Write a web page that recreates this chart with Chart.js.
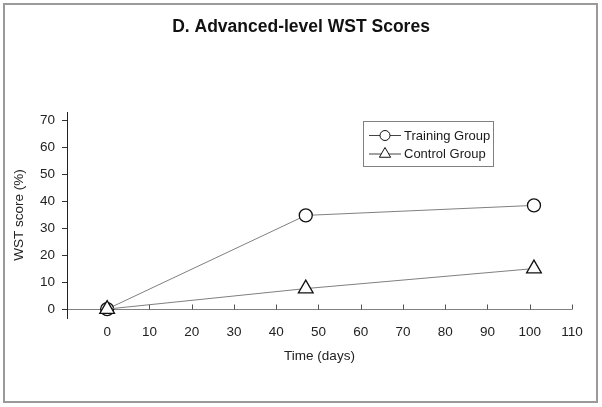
<!DOCTYPE html>
<html>
<head>
<meta charset="utf-8">
<script src="https://cdn.jsdelivr.net/npm/chart.js@4.4.0/dist/chart.umd.min.js"></script>
<style>
  html, body { margin: 0; padding: 0; background: #fff; }
  #wrap { width: 602px; height: 407px; position: relative; }
</style>
</head>
<body>
<div id="wrap"><canvas id="wstChart"></canvas></div>
<script>
// ── DATA ──
const days = [0, 47, 101];
const trainingScores = [0, 34.7, 38.4];
const controlScores = [0, 7.6, 15.0];
const xTicks = [0, 10, 20, 30, 40, 50, 60, 70, 80, 90, 100, 110];
const yTicks = [0, 10, 20, 30, 40, 50, 60, 70];

const toPoints = vals => days.map((d, i) => ({ x: d, y: vals[i] }));

Chart.defaults.font.family = "'Liberation Sans', Arial, sans-serif";
Chart.defaults.color = '#222';

// white page + thin grey frame round the picture
const frame = {
    id: 'frame',
    beforeDraw(chart) {
        const ctx = chart.ctx;
        ctx.save();
        ctx.fillStyle = '#fff';
        ctx.fillRect(0, 0, chart.width, chart.height);
        ctx.strokeStyle = '#9a9a9a';
        ctx.lineWidth = 2;
        ctx.strokeRect(4, 4, chart.width - 9, chart.height - 9);
        ctx.restore();
    }
};

// small inward tick marks on the x axis, sitting on y = 0
const xTickMarks = {
    id: 'xTickMarks',
    beforeDatasetsDraw(chart) {
        const { ctx, scales: { x, y } } = chart;
        const y0 = Math.round(y.getPixelForValue(0)) + 0.5;
        ctx.save();
        ctx.strokeStyle = '#555';
        ctx.lineWidth = 1;
        x.ticks.forEach(t => {
            const px = Math.round(x.getPixelForValue(t.value)) + 0.5;
            ctx.beginPath();
            ctx.moveTo(px, y0);
            ctx.lineTo(px, y0 - 5);
            ctx.stroke();
        });
        ctx.restore();
    }
};

// boxed legend with line-marker-line symbols
const boxLegend = {
    id: 'boxLegend',
    afterDraw(chart) {
        const ctx = chart.ctx;
        ctx.save();
        ctx.strokeStyle = '#808080';
        ctx.lineWidth = 1;
        ctx.strokeRect(363.5, 121.5, 130, 45);
        chart.data.datasets.forEach((ds, i) => {
            const ly = 135 + i * 18.5;
            ctx.strokeStyle = '#444';
            ctx.lineWidth = 1;
            ctx.beginPath();
            ctx.moveTo(369, ly + 0.5);
            ctx.lineTo(401, ly + 0.5);
            ctx.stroke();
            ctx.fillStyle = '#fff';
            ctx.strokeStyle = '#111';
            Chart.helpers.drawPoint(ctx, {
                pointStyle: ds.pointStyle,
                radius: ds.pointStyle === 'triangle' ? 6.5 : 5,
                borderWidth: 1.2,
                rotation: 0
            }, 385, ly + 0.5);
            ctx.fillStyle = '#1a1a1a';
            ctx.font = "13px 'Liberation Sans', Arial, sans-serif";
            ctx.textBaseline = 'middle';
            ctx.textAlign = 'left';
            ctx.fillText(ds.label, 404, ly + 1);
        });
        ctx.restore();
    }
};

new Chart(document.getElementById('wstChart'), {
    type: 'line',
    data: {
        datasets: [{
            label: 'Training Group',
            data: toPoints(trainingScores),
            order: 1,
            borderColor: '#808080',
            borderWidth: 1,
            pointStyle: 'circle',
            pointRadius: 6.5,
            pointBorderColor: '#111',
            pointBackgroundColor: '#fff',
            pointBorderWidth: 1.3,
            tension: 0
        }, {
            label: 'Control Group',
            data: toPoints(controlScores),
            order: 0,
            borderColor: '#808080',
            borderWidth: 1,
            pointStyle: 'triangle',
            pointRadius: 8.5,
            pointBorderColor: '#111',
            pointBackgroundColor: '#fff',
            pointBorderWidth: 1.3,
            tension: 0
        }]
    },
    options: {
        responsive: true, maintainAspectRatio: false,
        animation: false,
        devicePixelRatio: 1,
        layout: { padding: { left: 0, right: 0, top: 0, bottom: 0 } },
        plugins: {
            legend: { display: false },
            tooltip: { enabled: false },
            title: {
                display: true,
                text: 'D. Advanced-level WST Scores',
                color: '#111',
                font: { size: 17.5, weight: 'bold' },
                padding: { top: 17, bottom: 74 }
            }
        },
        scales: {
            x: {
                type: 'linear', min: -9.5, max: 110,
                afterBuildTicks: s => { s.ticks = xTicks.map(v => ({ value: v })); },
                afterFit: s => { s.height = 89; s.paddingRight = 30; },
                grid: { display: false, drawTicks: false },
                border: { display: false },
                ticks: { padding: 6, color: '#222', font: { size: 13.5 }, maxRotation: 0, autoSkip: false },
                title: { display: true, text: 'Time (days)', color: '#222', font: { size: 13.5 }, padding: { top: 0, bottom: 43 } }
            },
            y: {
                type: 'linear', min: -3.3, max: 73,
                afterBuildTicks: s => { s.ticks = yTicks.map(v => ({ value: v })); },
                afterFit: s => { s.width = 67; },
                grid: {
                    color: c => (c.tick && c.tick.value === 0) ? '#808080' : 'rgba(0,0,0,0)',
                    tickColor: '#333',
                    tickLength: 5
                },
                border: { display: true, color: '#222', width: 1 },
                ticks: { padding: 7, color: '#222', font: { size: 13.5 } },
                title: { display: true, text: 'WST score (%)', color: '#222', font: { size: 13.5 }, padding: { top: 11, bottom: 0 } }
            }
        }
    },
    plugins: [frame, xTickMarks, boxLegend]
});
</script>
</body>
</html>
